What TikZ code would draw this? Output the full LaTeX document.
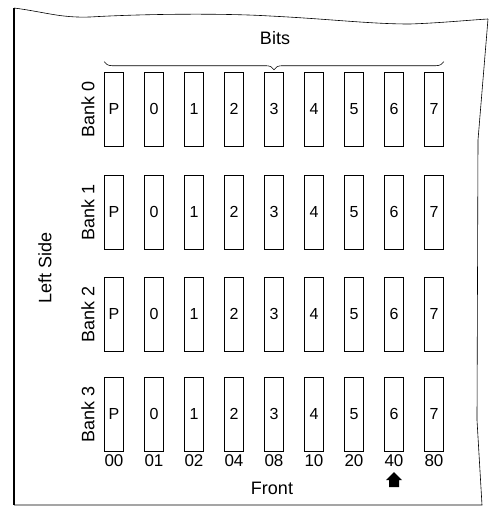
\documentclass[tikz,border=0pt]{standalone}
\usepackage{fontspec}
\setmainfont{Liberation Sans}
\usetikzlibrary{decorations.pathreplacing, calc}
\begin{document}
\begin{tikzpicture}[x=1pt, y=-1pt,
    font=\fontsize{16}{18}\selectfont,
    bitbox/.style={draw, line width=0.6pt, minimum width=19pt, minimum height=74pt, inner sep=0pt},
    banklabel/.style={rotate=90, font=\fontsize{18}{20}\selectfont},
    hexlabel/.style={inner sep=0pt, font=\fontsize{17}{19}\selectfont},
    bigtext/.style={font=\fontsize{18}{20}\selectfont},
    outline/.style={draw, line width=0.6pt}]

  \useasboundingbox (0,0) rectangle (492,507);

  % sheet outline
  \draw[line width=1.3pt] (14,8) -- (14,505);
  \draw[outline] (14,505) -- (482,505) -- (477,420) -- (478,140) -- (488,19);
  \draw[outline] (14,8) .. controls (45,12) and (60,18) .. (90,17)
    .. controls (140,14) and (220,13) .. (270,16)
    .. controls (330,19) and (370,24) .. (410,24)
    .. controls (440,23) and (470,20) .. (488,19);

  % banks of bits
  \foreach \row/\y in {0/109, 1/212, 2/314, 3/414} {
    \node[banklabel] (bank\row) at (88,\y) {Bank \row};
    \foreach \bit [count=\i from 0] in {P,0,1,2,3,4,5,6,7} {
      \node[bitbox] (b\row-\i) at (114+40*\i,\y) {\bit};
    }
  }

  % bit values along the front
  \foreach \hex [count=\i from 0] in {00,01,02,04,08,10,20,40,80} {
    \node[hexlabel] (hex\i) at (114+40*\i,461) {\hex};
  }

  \node[bigtext] (bits) at (275,38) {Bits};
  \coordinate (bl) at ($(b0-0.north west)+(0,-10)$);
  \coordinate (br) at ($(b0-8.north east)+(0,-10)$);
  \draw[line width=0.6pt, decorate, decoration={brace, mirror, amplitude=8pt}] (bl) -- (br);
  \node[bigtext] (front) at (272,488) {Front};
  \node[banklabel] (left) at (45,268) {Left Side};

  % front marker
  \fill (386,480) -- (394,472) -- (402,480) -- (399,480) -- (399,487) -- (389,487) -- (389,480) -- cycle;
\end{tikzpicture}
\end{document}
